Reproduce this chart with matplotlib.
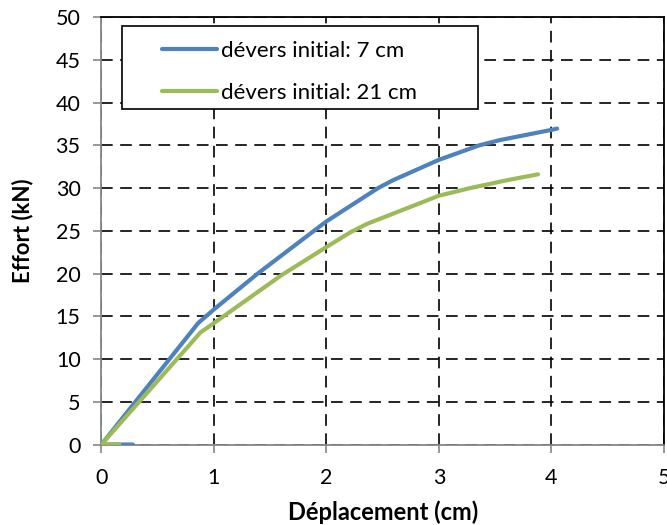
import numpy as np
import matplotlib.pyplot as plt
from matplotlib.patches import Rectangle

plt.rcParams['font.family'] = ['Lato', 'DejaVu Sans']

# dévers initial 7 cm
x_7 = [0.28, 0.0, 0.86, 1.0, 1.39, 2.0, 2.46, 2.59, 3.0, 3.36, 3.54, 4.0, 4.05]
y_7 = [0.0, 0.0, 14.2, 15.8, 20.0, 26.1, 30.0, 30.9, 33.3, 35.0, 35.6, 36.8, 36.95]

# dévers initial 21 cm
x_21 = [0.16, 0.0, 0.88, 1.0, 1.6, 2.0, 2.21, 2.36, 3.0, 3.28, 3.6, 3.88]
y_21 = [0.0, 0.0, 13.1, 14.2, 19.8, 23.1, 24.8, 25.8, 29.1, 30.0, 30.9, 31.6]

labels = ["dévers initial: 7 cm", "dévers initial: 21 cm"]
colors = ["#4F81BD", "#9BBB59"]

fig = plt.figure(figsize=(6.67, 5.25), dpi=100)
ax = fig.add_axes([0.152, 0.1533, 0.8435, 0.8143])

ax.plot(x_7, y_7, color=colors[0], lw=3, label=labels[0], solid_capstyle='round', zorder=3)
ax.plot(x_21, y_21, color=colors[1], lw=3, label=labels[1], solid_capstyle='round', zorder=3)

ax.set_xlim(0, 5)
ax.set_ylim(0, 50)
ax.set_xticks(range(0, 6))
ax.set_yticks(range(0, 51, 5))
ax.grid(True, color='black', linestyle=(0, (7, 4.5)), linewidth=1.2)
ax.set_axisbelow(True)

for s in ['left', 'bottom']:
    ax.spines[s].set_color('#868686')
    ax.spines[s].set_linewidth(1.3)
for s in ['top', 'right']:
    ax.spines[s].set_color('black')
    ax.spines[s].set_linewidth(1.3)

ax.tick_params(direction='out', length=6, width=1.2, color='#868686', labelsize=15.5)
ax.tick_params(axis='y', pad=9)
ax.tick_params(axis='x', pad=11)

ax.set_xlabel("Déplacement (cm)", fontsize=17, fontweight='bold', labelpad=9)
ax.set_ylabel("Effort (kN)", fontsize=16, fontweight='bold', labelpad=16)

# legend frame (wide horizontal padding like the original)
ax.add_patch(Rectangle((0.036, 0.785), 0.633, 0.194, transform=ax.transAxes,
                       facecolor='white', edgecolor='black', linewidth=1.2, zorder=4,
                       clip_on=False))
leg = ax.legend(loc='upper left', bbox_to_anchor=(0.1076, 0.944), borderaxespad=0,
                fontsize=16, handlelength=2.5, handletextpad=0.15, labelspacing=1.0,
                borderpad=0, frameon=False)
leg.set_zorder(5)

fig.savefig("out.png", dpi=100)
